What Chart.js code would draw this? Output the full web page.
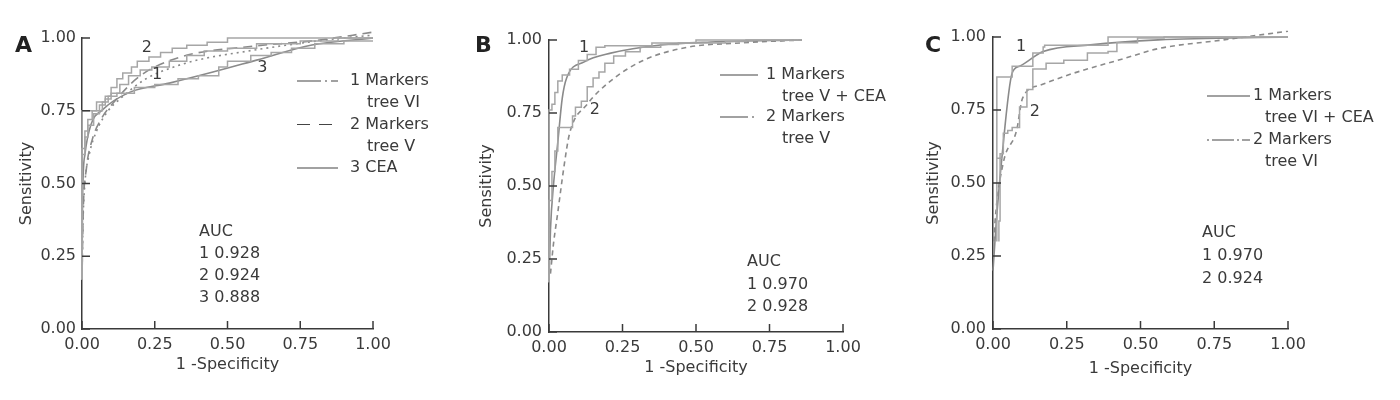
<!DOCTYPE html>
<html>
<head>
<meta charset="utf-8">
<script src="https://cdn.jsdelivr.net/npm/chart.js@4.4.1/dist/chart.umd.min.js"></script>
<style>
  body { margin: 0; background: #fff; width: 1400px; height: 400px; overflow: hidden; position: relative; }
  .panel { position: absolute; top: 0; height: 400px; }
</style>
</head>
<body>
<div class="panel" style="left:0;width:460px"><canvas id="chartA"></canvas></div>
<div class="panel" style="left:460px;width:460px"><canvas id="chartB"></canvas></div>
<div class="panel" style="left:920px;width:480px"><canvas id="chartC"></canvas></div>
<script>
// values, [1 - specificity, sensitivity]
const tickValues = [0, 0.25, 0.5, 0.75, 1];

// Panel A
const aStep1 = [[0,0.17],[0,0.5],[0.01,0.6],[0.02,0.66],[0.04,0.7],[0.06,0.74],[0.08,0.77],[0.1,0.79],[0.13,0.81],[0.16,0.84],[0.2,0.87],[0.24,0.89],[0.3,0.9],[0.36,0.92],[0.42,0.94],[0.5,0.955],[0.6,0.965],[0.75,0.98],[0.88,0.99],[1,1]];
const aFit1 = [[0,0.17],[0.003,0.35],[0.01,0.5],[0.025,0.6],[0.05,0.68],[0.09,0.75],[0.13,0.79],[0.22,0.86],[0.3,0.895],[0.4,0.925],[0.57,0.955],[0.7,0.975],[0.85,0.995],[1,1.01]];
const aStep2 = [[0,0.17],[0,0.55],[0.01,0.62],[0.02,0.68],[0.035,0.72],[0.05,0.75],[0.08,0.78],[0.1,0.8],[0.12,0.83],[0.14,0.86],[0.17,0.88],[0.19,0.9],[0.23,0.92],[0.27,0.935],[0.31,0.95],[0.36,0.965],[0.43,0.975],[0.5,0.985],[0.57,1],[1,1]];
const aFit2 = [[0,0.17],[0.004,0.4],[0.015,0.55],[0.035,0.65],[0.065,0.72],[0.11,0.78],[0.2,0.87],[0.34,0.935],[0.57,0.97],[0.79,0.99],[1,1.02]];
const aStep3 = [[0,0.17],[0,0.75],[0.07,0.75],[0.09,0.78],[0.12,0.8],[0.18,0.81],[0.25,0.83],[0.33,0.84],[0.4,0.86],[0.47,0.87],[0.5,0.9],[0.58,0.92],[0.65,0.94],[0.72,0.95],[0.8,0.965],[0.9,0.98],[1,0.99]];
const aFit3 = [[0,0.17],[0.002,0.45],[0.01,0.6],[0.03,0.7],[0.07,0.753],[0.165,0.814],[0.3,0.845],[0.45,0.883],[0.6,0.924],[0.79,0.976],[1,1]];

// Panel B
const bStep1 = [[0,0.17],[0,0.68],[0.01,0.76],[0.02,0.78],[0.03,0.82],[0.045,0.86],[0.07,0.88],[0.1,0.9],[0.13,0.93],[0.16,0.95],[0.19,0.975],[0.35,0.98],[0.5,0.99],[0.67,1],[0.86,1]];
const bFit1 = [[0,0.17],[0.005,0.35],[0.015,0.5],[0.03,0.65],[0.045,0.8],[0.06,0.87],[0.12,0.925],[0.21,0.955],[0.38,0.983],[0.55,0.993],[0.86,1]];
const bStep2 = [[0,0.17],[0.01,0.45],[0.02,0.55],[0.03,0.62],[0.04,0.7],[0.08,0.7],[0.09,0.74],[0.11,0.77],[0.13,0.79],[0.15,0.84],[0.17,0.87],[0.19,0.89],[0.22,0.92],[0.26,0.945],[0.31,0.96],[0.38,0.975],[0.44,0.985],[0.6,0.99],[0.67,0.995],[0.86,1]];
const bFit2 = [[0.005,0.2],[0.015,0.3],[0.03,0.41],[0.05,0.56],[0.07,0.68],[0.13,0.78],[0.21,0.86],[0.32,0.93],[0.47,0.975],[0.65,0.99],[0.86,1]];

// Panel C
const cStep1 = [[0.013,0.3],[0.013,0.585],[0.03,0.585],[0.013,0.585],[0.013,0.863],[0.065,0.863],[0.065,0.88],[0.135,0.9],[0.17,0.945],[0.175,0.966],[0.39,0.972],[0.49,1],[1,1]];
const cFit1 = [[0,0.2],[0.01,0.35],[0.03,0.585],[0.065,0.877],[0.09,0.9],[0.17,0.95],[0.33,0.973],[0.56,0.99],[1,1]];
const cStep2 = [[0.02,0.3],[0.024,0.37],[0.035,0.6],[0.05,0.67],[0.065,0.68],[0.09,0.69],[0.115,0.76],[0.115,0.775],[0.135,0.82],[0.135,0.86],[0.18,0.89],[0.24,0.91],[0.32,0.92],[0.39,0.945],[0.42,0.95],[0.49,0.98],[0.58,0.997],[1,1]];
const cFit2 = [[0.003,0.3],[0.007,0.37],[0.035,0.57],[0.08,0.68],[0.1,0.79],[0.16,0.835],[0.27,0.875],[0.44,0.925],[0.56,0.96],[0.78,0.99],[1,1.02]];

const aucA = ['AUC', '1 0.928', '2 0.924', '3 0.888'];
const aucB = ['AUC', '1 0.970', '2 0.928'];
const aucC = ['AUC', '1 0.970', '2 0.924'];

const INK = '#3a3a3a';
const FIT = '#8a8a8a';
const STEP = '#a6a6a6';
Chart.defaults.font.family = '"DejaVu Sans", Verdana, sans-serif';
Chart.defaults.font.size = 16;

function pts(arr) {
    return arr.map(p => ({ x: p[0], y: p[1] }));
}
function stepSet(arr) {
    return { data: pts(arr), showLine: true, stepped: 'after', borderColor: STEP, borderWidth: 1.5, pointRadius: 0, clip: 12 };
}
function fitSet(arr, dash) {
    return { data: pts(arr), showLine: true, cubicInterpolationMode: 'monotone', borderColor: FIT, borderWidth: 1.6, borderDash: dash, pointRadius: 0, clip: 12 };
}

// inward ticks, panel letter, curve numbers, legend and AUC box
const panelDecor = {
    id: 'panelDecor',
    afterDraw(chart, args, opts) {
        const { ctx, chartArea: area, scales: { x, y } } = chart;
        ctx.save();
        ctx.strokeStyle = INK;
        ctx.lineWidth = 1.5;
        tickValues.forEach(v => {
            const px = x.getPixelForValue(v);
            ctx.beginPath(); ctx.moveTo(px, area.bottom); ctx.lineTo(px, area.bottom - 8); ctx.stroke();
            const py = y.getPixelForValue(v);
            ctx.beginPath(); ctx.moveTo(area.left, py); ctx.lineTo(area.left + 8, py); ctx.stroke();
        });

        ctx.fillStyle = '#222';
        ctx.textAlign = 'left';
        ctx.textBaseline = 'alphabetic';
        ctx.font = 'bold 22px "DejaVu Sans"';
        ctx.fillText(opts.letter, opts.letterX, 52);

        ctx.font = '16px "DejaVu Sans"';
        ctx.fillStyle = INK;
        ctx.textBaseline = 'middle';
        ctx.textAlign = 'center';
        opts.curveLabels.forEach(l => {
            ctx.fillText(l[0], x.getPixelForValue(l[1]), y.getPixelForValue(l[2]));
        });

        ctx.textAlign = 'left';
        const lg = opts.legend;
        lg.items.forEach((item, i) => {
            const ly = lg.y0 + i * lg.gap;
            ctx.save();
            ctx.lineWidth = 1.2;
            ctx.strokeStyle = '#444';
            ctx.setLineDash(item.dash);
            ctx.beginPath(); ctx.moveTo(lg.x0, ly); ctx.lineTo(lg.x1, ly); ctx.stroke();
            ctx.restore();
            ctx.fillText(item.lines[0], lg.textX, ly);
            if (item.lines[1]) ctx.fillText(item.lines[1], lg.textX2, ly + 22);
        });

        opts.auc.lines.forEach((t, i) => {
            ctx.fillText(t, opts.auc.x, opts.auc.y0 + i * opts.auc.gap);
        });
        ctx.restore();
    }
};

function makePanel(id, datasets, lay, decor) {
    return new Chart(document.getElementById(id), {
        type: 'scatter',
        data: { datasets: datasets },
        options: {
            responsive: true,
            maintainAspectRatio: false,
            animation: false,
            layout: { padding: { left: 0, right: lay.padRight, top: lay.padTop, bottom: 0 } },
            plugins: {
                legend: { display: false },
                tooltip: { enabled: false },
                panelDecor: decor
            },
            scales: {
                x: {
                    type: 'linear', min: 0, max: 1,
                    ticks: { stepSize: 0.25, color: INK, padding: 6, maxRotation: 0, autoSkip: false, callback: v => v.toFixed(2) },
                    grid: { display: false, drawTicks: false },
                    border: { display: true, color: INK, width: 1.5 },
                    title: { display: true, text: '1 -Specificity', color: INK, padding: { top: 0, bottom: lay.xTitlePad } },
                    afterFit: s => { s.height = lay.xHeight; }
                },
                y: {
                    type: 'linear', min: 0, max: 1,
                    ticks: { stepSize: 0.25, color: INK, padding: lay.yTickPad, callback: v => v.toFixed(2) },
                    grid: { display: false, drawTicks: false },
                    border: { display: true, color: INK, width: 1.5 },
                    title: { display: true, text: 'Sensitivity', color: INK, padding: { top: lay.yTitlePad, bottom: 0 } },
                    afterFit: s => { s.width = lay.yWidth; }
                }
            }
        },
        plugins: [panelDecor]
    });
}

const dashDot = [24, 4, 2, 4];
const longDash = [13, 9];
const shortDash = [5, 4];

makePanel('chartA', [
    stepSet(aStep1), stepSet(aStep2), stepSet(aStep3),
    fitSet(aFit1, [2, 4]), fitSet(aFit2, [9, 6]), fitSet(aFit3, [])
], { padRight: 87, padTop: 38, xHeight: 71, yWidth: 82, xTitlePad: 26, yTitlePad: 17, yTickPad: 6 }, {
    letter: 'A', letterX: 15,
    curveLabels: [['2', 0.223, 0.966], ['1', 0.258, 0.873], ['3', 0.62, 0.897]],
    legend: { x0: 297, x1: 338, y0: 81, gap: 43.5, textX: 350, textX2: 367, items: [
        { dash: dashDot, lines: ['1 Markers', 'tree VI'] },
        { dash: longDash, lines: ['2 Markers', 'tree V'] },
        { dash: [], lines: ['3 CEA'] }
    ] },
    auc: { x: 199, y0: 232, gap: 22, lines: aucA }
});

makePanel('chartB', [
    stepSet(bStep1), stepSet(bStep2),
    fitSet(bFit1, []), fitSet(bFit2, shortDash)
], { padRight: 77, padTop: 40, xHeight: 68, yWidth: 89, xTitlePad: 23, yTitlePad: 17, yTickPad: 7 }, {
    letter: 'B', letterX: 15,
    curveLabels: [['1', 0.119, 0.973], ['2', 0.156, 0.76]],
    legend: { x0: 260, x1: 298, y0: 75, gap: 42, textX: 306, textX2: 322, items: [
        { dash: [], lines: ['1 Markers', 'tree V + CEA'] },
        { dash: [28, 4, 2, 4], lines: ['2 Markers', 'tree V'] }
    ] },
    auc: { x: 287, y0: 262, gap: 22.5, lines: aucB }
});

makePanel('chartC', [
    stepSet(cStep1), stepSet(cStep2),
    fitSet(cFit1, []), fitSet(cFit2, shortDash)
], { padRight: 112, padTop: 37, xHeight: 71, yWidth: 73, xTitlePad: 22, yTitlePad: 4, yTickPad: 7 }, {
    letter: 'C', letterX: 5,
    curveLabels: [['1', 0.095, 0.966], ['2', 0.142, 0.743]],
    legend: { x0: 287, x1: 330, y0: 96, gap: 44, textX: 333, textX2: 345, items: [
        { dash: [], lines: ['1 Markers', 'tree VI + CEA'] },
        { dash: [2, 3, 22, 3, 2, 3, 10], lines: ['2 Markers', 'tree VI'] }
    ] },
    auc: { x: 282, y0: 233, gap: 23, lines: aucC }
});
</script>
</body>
</html>
